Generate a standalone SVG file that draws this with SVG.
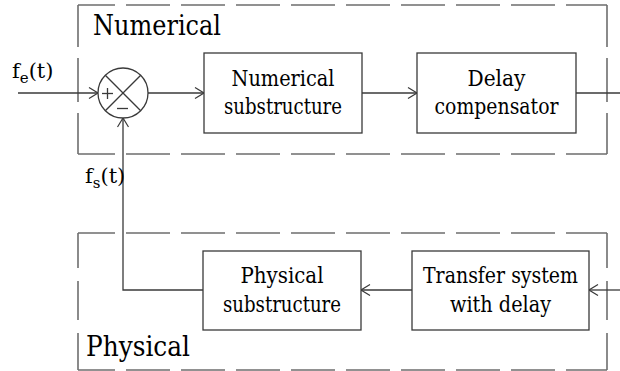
<svg xmlns="http://www.w3.org/2000/svg" width="620" height="371" viewBox="0 0 620 371">
  <style>
    .box { fill: #fff; stroke: #3a3a3a; stroke-width: 1.3; }
    .wire { fill: none; stroke: #3a3a3a; stroke-width: 1.3; }
    .dash { fill: none; stroke: #6e6e6e; stroke-width: 1.6; }
  </style>
  <defs>
    <marker id="arr" viewBox="0 0 10 12" refX="10" refY="6" markerWidth="10" markerHeight="12" markerUnits="userSpaceOnUse" orient="auto">
      <polyline points="1,0.5 10,6 1,11.5" fill="none" stroke="#3a3a3a" stroke-width="1.2"/>
    </marker>
  </defs>

  <!-- subsystem frames -->
  <g id="frame-numerical">
    <line class="dash" x1="78" y1="5" x2="607" y2="5" stroke-dasharray="44 11" stroke-dashoffset="7"/>
    <line class="dash" x1="78" y1="154" x2="607" y2="154" stroke-dasharray="44 11" stroke-dashoffset="7"/>
    <line class="dash" x1="78" y1="5" x2="78" y2="154" stroke-dasharray="42 11 44 11 42"/>
    <line class="dash" x1="607" y1="5" x2="607" y2="154" stroke-dasharray="42 11 44 11 42"/>
    <text x="93" y="35" font-size="27" font-family="DejaVu Serif" textLength="128" lengthAdjust="spacingAndGlyphs">Numerical</text>
  </g>
  <g id="frame-physical">
    <line class="dash" x1="78" y1="233" x2="607" y2="233" stroke-dasharray="44 11" stroke-dashoffset="7"/>
    <line class="dash" x1="78" y1="370" x2="607" y2="370" stroke-dasharray="44 11" stroke-dashoffset="7"/>
    <line class="dash" x1="78" y1="233" x2="78" y2="370" stroke-dasharray="35 13 39 13 40"/>
    <line class="dash" x1="607" y1="233" x2="607" y2="370" stroke-dasharray="35 13 39 13 40"/>
    <text x="86" y="356" font-size="27" font-family="DejaVu Serif" textLength="104" lengthAdjust="spacingAndGlyphs">Physical</text>
  </g>

  <!-- connectors -->
  <g id="connectors">
    <line class="wire" x1="18" y1="93" x2="98" y2="93" marker-end="url(#arr)"/>
    <line class="wire" x1="148" y1="93" x2="204" y2="93" marker-end="url(#arr)"/>
    <line class="wire" x1="362" y1="93" x2="417" y2="93" marker-end="url(#arr)"/>
    <line class="wire" x1="576" y1="93" x2="620" y2="93"/>
    <line class="wire" x1="620" y1="290" x2="589" y2="290" marker-end="url(#arr)"/>
    <line class="wire" x1="412" y1="290" x2="361" y2="290" marker-end="url(#arr)"/>
    <polyline class="wire" points="203,290 123,290 123,118" marker-end="url(#arr)"/>
    <text x="12" y="78" font-size="21" font-family="DejaVu Serif">f<tspan font-size="15" dy="5">e</tspan><tspan dy="-5">(t)</tspan></text>
    <text x="85" y="183" font-size="21" font-family="DejaVu Serif">f<tspan font-size="15" dy="5">s</tspan><tspan dy="-5">(t)</tspan></text>
  </g>

  <!-- summing junction -->
  <g id="sum">
    <circle cx="123" cy="93" r="25" class="box"/>
    <line class="wire" x1="105.3" y1="75.3" x2="140.7" y2="110.7"/>
    <line class="wire" x1="140.7" y1="75.3" x2="105.3" y2="110.7"/>
    <line class="wire" x1="102" y1="93.5" x2="113" y2="93.5"/>
    <line class="wire" x1="107.5" y1="88" x2="107.5" y2="99"/>
    <line class="wire" x1="117" y1="108.5" x2="128" y2="108.5"/>
  </g>

  <g id="numerical-substructure">
    <rect class="box" x="204" y="53" width="158" height="80"/>
    <text x="283" y="86" font-size="22" text-anchor="middle" font-family="DejaVu Serif" textLength="103" lengthAdjust="spacingAndGlyphs">Numerical</text>
    <text x="283" y="114" font-size="22" text-anchor="middle" font-family="DejaVu Serif" textLength="118" lengthAdjust="spacingAndGlyphs">substructure</text>
  </g>

  <g id="delay-compensator">
    <rect class="box" x="417" y="53" width="159" height="80"/>
    <text x="496.5" y="86" font-size="22" text-anchor="middle" font-family="DejaVu Serif" textLength="58" lengthAdjust="spacingAndGlyphs">Delay</text>
    <text x="496.5" y="114" font-size="22" text-anchor="middle" font-family="DejaVu Serif" textLength="124" lengthAdjust="spacingAndGlyphs">compensator</text>
  </g>

  <g id="physical-substructure">
    <rect class="box" x="203" y="251" width="158" height="79"/>
    <text x="282" y="283" font-size="22" text-anchor="middle" font-family="DejaVu Serif" textLength="83" lengthAdjust="spacingAndGlyphs">Physical</text>
    <text x="282" y="312" font-size="22" text-anchor="middle" font-family="DejaVu Serif" textLength="118" lengthAdjust="spacingAndGlyphs">substructure</text>
  </g>

  <g id="transfer-system">
    <rect class="box" x="412" y="251" width="177" height="79"/>
    <text x="500.5" y="283" font-size="22" text-anchor="middle" font-family="DejaVu Serif" textLength="155" lengthAdjust="spacingAndGlyphs">Transfer system</text>
    <text x="500.5" y="312" font-size="22" text-anchor="middle" font-family="DejaVu Serif" textLength="101" lengthAdjust="spacingAndGlyphs">with delay</text>
  </g>
</svg>
